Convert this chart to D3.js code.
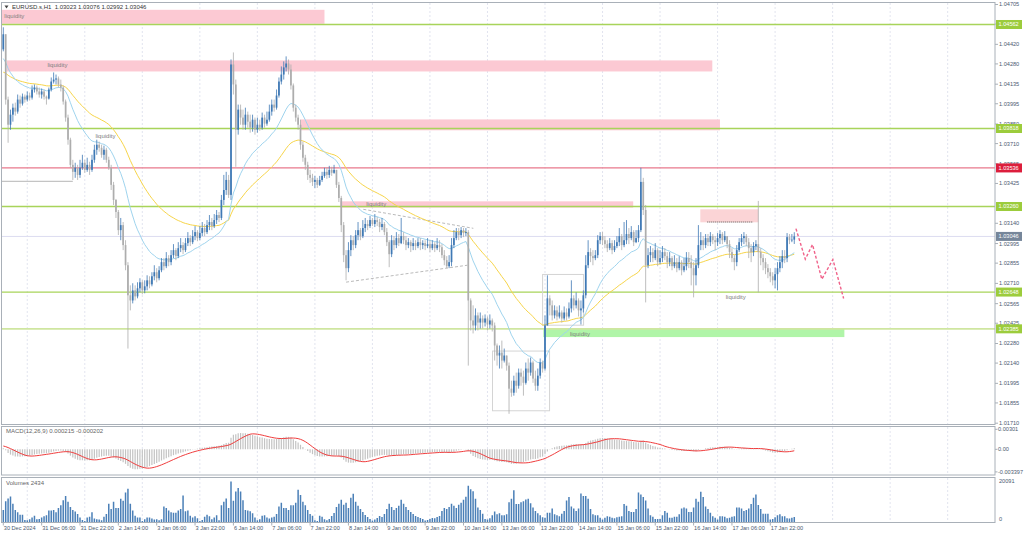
<!DOCTYPE html>
<html><head><meta charset="utf-8">
<script src="https://cdn.jsdelivr.net/npm/d3@7"></script>
<style>body{margin:0;background:#fff;overflow:hidden}text{font-family:"Liberation Sans",Arial,sans-serif}</style>
</head><body>
<svg id="c" width="1024" height="537"></svg>
<script>
// ---------------- DATA ----------------
const symbol = "EURUSD.s,H1";
const firstOpen = 1.04384;
const closes = [
1.04492,1.04025,1.03845,1.03917,1.03967,1.03939,1.04025,1.03996,1.04046,1.04025,
1.04054,1.04039,1.04097,1.04111,1.04083,1.04061,1.04083,1.04046,1.04032,1.04097,
1.04154,1.04168,1.04176,1.04133,1.04111,1.04011,1.03896,1.03738,1.03558,1.03508,
1.03537,1.03486,1.03537,1.03573,1.03522,1.03558,1.03522,1.03594,1.03666,1.03702,
1.03680,1.03630,1.03666,1.03594,1.03537,1.03415,1.03307,1.03221,1.03091,1.03127,
1.02984,1.02840,1.02625,1.02588,1.02660,1.02617,1.02675,1.02718,1.02660,1.02689,
1.02732,1.02703,1.02761,1.02790,1.02747,1.02804,1.02862,1.02833,1.02891,1.02862,
1.02912,1.02948,1.02905,1.02962,1.02984,1.02948,1.02998,1.03034,1.03005,1.03048,
1.03077,1.03034,1.03070,1.03106,1.03077,1.03127,1.03149,1.03120,1.03163,1.03199,
1.03178,1.03307,1.03378,1.03450,1.03343,1.04276,1.04133,1.03809,1.03953,1.03896,
1.03845,1.03917,1.03867,1.03824,1.03881,1.03809,1.03845,1.03824,1.03896,1.03853,
1.03881,1.03939,1.03989,1.03967,1.04054,1.04154,1.04204,1.04255,1.04283,1.04240,
1.04126,1.03967,1.03896,1.03845,1.03702,1.03609,1.03558,1.03486,1.03465,1.03436,
1.03450,1.03415,1.03450,1.03479,1.03508,1.03486,1.03522,1.03501,1.03522,1.03415,
1.03321,1.03127,1.02912,1.02819,1.02948,1.03019,1.02984,1.03055,1.03091,1.03048,
1.03106,1.03135,1.03120,1.03163,1.03135,1.03163,1.03149,1.03113,1.03135,1.03077,
1.03005,1.02919,1.03019,1.02984,1.03034,1.02998,1.03048,1.03019,1.02984,1.03005,
1.02977,1.02998,1.02977,1.03005,1.02984,1.02998,1.02977,1.02991,1.02962,1.02991,
1.02962,1.02984,1.02969,1.02912,1.02876,1.02833,1.02862,1.02984,1.03034,1.03077,
1.03055,1.03091,1.03070,1.03077,1.02588,1.02445,1.02409,1.02481,1.02430,1.02459,
1.02430,1.02459,1.02416,1.02445,1.02409,1.02266,1.02194,1.02215,1.02158,1.02194,
1.02122,1.01957,1.01928,1.02014,1.01978,1.02072,1.02043,1.01999,1.02101,1.02072,
1.02144,1.02029,1.01978,1.02050,1.02144,1.02101,1.02409,1.02603,1.02553,1.02481,
1.02517,1.02473,1.02502,1.02459,1.02502,1.02473,1.02531,1.02603,1.02553,1.02588,
1.02517,1.02531,1.02625,1.02840,1.02934,1.02905,1.02891,1.02912,1.03019,1.03048,
1.03019,1.02991,1.02962,1.02998,1.02948,1.02977,1.03005,1.03048,1.02984,1.03019,
1.03063,1.03034,1.03077,1.03005,1.03034,1.03091,1.03436,1.03235,1.02840,1.02912,
1.02934,1.02891,1.02948,1.02862,1.02891,1.02934,1.02905,1.02862,1.02891,1.02833,
1.02862,1.02819,1.02862,1.02804,1.02833,1.02891,1.02862,1.02819,1.02768,1.02840,
1.02984,1.03019,1.02984,1.03034,1.03005,1.03048,1.03019,1.03005,1.03034,1.03063,
1.03019,1.03048,1.02991,1.02934,1.02891,1.02862,1.02948,1.03005,1.03034,1.03048,
1.03005,1.02962,1.02934,1.02977,1.02991,1.02934,1.02891,1.02862,1.02819,1.02790,
1.02761,1.02732,1.02776,1.02819,1.02862,1.02905,1.02891,1.03041,1.03019,1.03023,
1.03046];
const highs = [
1.04542,1.04478,1.04046,1.03953,1.03996,1.04003,1.04061,1.04054,1.04068,1.04061,
1.04083,1.04075,1.04126,1.04133,1.04126,1.04111,1.04104,1.04097,1.04054,1.04111,
1.04183,1.04219,1.04204,1.04190,1.04168,1.04126,1.04025,1.03917,1.03752,1.03594,
1.03573,1.03558,1.03594,1.03630,1.03594,1.03609,1.03580,1.03630,1.03702,1.03738,
1.03724,1.03702,1.03695,1.03680,1.03616,1.03558,1.03436,1.03314,1.03235,1.03178,
1.03149,1.03019,1.02862,1.02696,1.02711,1.02696,1.02718,1.02747,1.02732,1.02732,
1.02768,1.02761,1.02790,1.02840,1.02819,1.02833,1.02891,1.02891,1.02934,1.02912,
1.02948,1.02991,1.02962,1.03005,1.03034,1.03005,1.03034,1.03077,1.03055,1.03091,
1.03120,1.03091,1.03120,1.03149,1.03135,1.03163,1.03199,1.03178,1.03206,1.03235,
1.03221,1.03343,1.03486,1.03508,1.03486,1.04312,1.04362,1.04168,1.03989,1.03989,
1.03953,1.03967,1.03939,1.03917,1.03917,1.03896,1.03896,1.03881,1.03932,1.03917,
1.03939,1.03989,1.04025,1.04025,1.04097,1.04183,1.04262,1.04298,1.04334,1.04312,
1.04276,1.04140,1.03989,1.03917,1.03881,1.03724,1.03630,1.03580,1.03522,1.03494,
1.03479,1.03465,1.03479,1.03508,1.03537,1.03537,1.03551,1.03544,1.03558,1.03522,
1.03436,1.03336,1.03149,1.02948,1.03005,1.03055,1.03048,1.03091,1.03149,1.03106,
1.03163,1.03178,1.03163,1.03192,1.03178,1.03206,1.03185,1.03171,1.03178,1.03149,
1.03106,1.03019,1.03055,1.03048,1.03077,1.03063,1.03178,1.03077,1.03048,1.03034,
1.03019,1.03034,1.03019,1.03034,1.03034,1.03019,1.03019,1.03034,1.03019,1.03019,
1.03005,1.03034,1.03019,1.02991,1.02948,1.02905,1.02912,1.03034,1.03091,1.03106,
1.03106,1.03113,1.03106,1.03106,1.03091,1.02603,1.02553,1.02531,1.02502,1.02502,
1.02481,1.02488,1.02473,1.02488,1.02459,1.02430,1.02280,1.02266,1.02301,1.02244,
1.02194,1.02144,1.02014,1.02050,1.02072,1.02101,1.02101,1.02086,1.02144,1.02173,
1.02180,1.02158,1.02086,1.02101,1.02173,1.02158,1.02481,1.02768,1.02625,1.02588,
1.02553,1.02545,1.02553,1.02517,1.02545,1.02531,1.02574,1.02732,1.02625,1.02646,
1.02603,1.02588,1.02660,1.02912,1.03019,1.02962,1.02948,1.02948,1.03055,1.03077,
1.03077,1.03048,1.03019,1.03034,1.03019,1.03019,1.03048,1.03106,1.03063,1.03149,
1.03163,1.03106,1.03120,1.03091,1.03091,1.03127,1.03537,1.03465,1.03271,1.02962,
1.02977,1.02962,1.02998,1.02962,1.02948,1.02977,1.02962,1.02934,1.02934,1.02905,
1.02912,1.02891,1.02905,1.02876,1.02891,1.02934,1.02934,1.02912,1.02862,1.02891,
1.03127,1.03077,1.03048,1.03063,1.03063,1.03077,1.03063,1.03048,1.03070,1.03091,
1.03077,1.03084,1.03048,1.03019,1.02962,1.02912,1.02984,1.03034,1.03063,1.03077,
1.03063,1.03034,1.02991,1.03005,1.03019,1.03300,1.02962,1.02919,1.02891,1.02848,
1.02819,1.02790,1.02819,1.02862,1.02905,1.02948,1.02948,1.03070,1.03063,1.03063,
1.03076];
const lows = [
1.04370,1.03989,1.03716,1.03809,1.03867,1.03910,1.03924,1.03967,1.03982,1.04003,
1.04011,1.04018,1.04025,1.04075,1.04061,1.04039,1.04032,1.04025,1.03989,1.04025,
1.04083,1.04140,1.04133,1.04111,1.04083,1.03989,1.03867,1.03702,1.03537,1.03450,
1.03465,1.03450,1.03465,1.03522,1.03501,1.03508,1.03486,1.03508,1.03573,1.03630,
1.03652,1.03609,1.03594,1.03573,1.03522,1.03378,1.03271,1.03178,1.03056,1.03019,
1.02948,1.02804,1.02244,1.02517,1.02567,1.02588,1.02603,1.02646,1.02632,1.02639,
1.02660,1.02675,1.02689,1.02732,1.02718,1.02732,1.02790,1.02804,1.02819,1.02833,
1.02840,1.02891,1.02876,1.02891,1.02934,1.02919,1.02934,1.02977,1.02977,1.02991,
1.03019,1.03012,1.03019,1.03048,1.03048,1.03063,1.03091,1.03091,1.03106,1.03135,
1.03149,1.03163,1.03271,1.03343,1.03321,1.03307,1.04061,1.03544,1.03774,1.03845,
1.03809,1.03809,1.03824,1.03788,1.03795,1.03774,1.03788,1.03802,1.03809,1.03824,
1.03838,1.03867,1.03910,1.03939,1.03953,1.04039,1.04133,1.04168,1.04226,1.04204,
1.04097,1.03939,1.03867,1.03809,1.03666,1.03580,1.03522,1.03450,1.03429,1.03407,
1.03393,1.03393,1.03407,1.03436,1.03465,1.03458,1.03465,1.03479,1.03494,1.03393,
1.03292,1.03077,1.02862,1.02732,1.02790,1.02905,1.02948,1.02962,1.03019,1.03019,
1.03034,1.03077,1.03091,1.03106,1.03120,1.03113,1.03120,1.03077,1.03091,1.03055,
1.02977,1.02826,1.02898,1.02948,1.02962,1.02977,1.02991,1.02991,1.02948,1.02962,
1.02934,1.02948,1.02948,1.02962,1.02948,1.02955,1.02948,1.02962,1.02934,1.02948,
1.02934,1.02948,1.02934,1.02891,1.02840,1.02819,1.02819,1.02833,1.02962,1.03019,
1.03019,1.03034,1.03041,1.03048,1.02122,1.02373,1.02352,1.02373,1.02373,1.02387,
1.02387,1.02402,1.02373,1.02387,1.02366,1.02158,1.02122,1.02101,1.02101,1.02144,
1.02086,1.01777,1.01899,1.01907,1.01928,1.01957,1.01978,1.01907,1.01986,1.02014,
1.02050,1.01999,1.01942,1.01942,1.02029,1.02072,1.02086,1.02409,1.02481,1.02445,
1.02459,1.02445,1.02459,1.02430,1.02445,1.02445,1.02459,1.02502,1.02517,1.02531,
1.02473,1.02416,1.02502,1.02603,1.02819,1.02862,1.02840,1.02876,1.02891,1.02991,
1.02984,1.02962,1.02934,1.02948,1.02919,1.02934,1.02962,1.02977,1.02948,1.02969,
1.02991,1.02991,1.03019,1.02977,1.02998,1.03005,1.03077,1.03199,1.02574,1.02819,
1.02862,1.02862,1.02876,1.02833,1.02848,1.02862,1.02876,1.02819,1.02833,1.02804,
1.02819,1.02790,1.02804,1.02768,1.02790,1.02804,1.02819,1.02696,1.02610,1.02696,
1.02819,1.02948,1.02948,1.02962,1.02977,1.02977,1.02991,1.02948,1.02977,1.02991,
1.02991,1.03005,1.02962,1.02891,1.02862,1.02804,1.02833,1.02934,1.02977,1.02991,
1.02977,1.02891,1.02862,1.02905,1.02948,1.02646,1.02840,1.02804,1.02776,1.02747,
1.02718,1.02696,1.02675,1.02660,1.02790,1.02819,1.02855,1.02862,1.02991,1.03005,
1.02992];
const volumes = [
6000,10300,11700,12600,9100,6000,4800,3600,3600,1000,900,1400,2200,3100,1400,
1500,2200,2800,3400,5700,5700,6000,4800,7000,8300,10800,12900,10000,7400,6000,5200,4000,2200,1000,500,2200,2600,4800,1700,1400,1200,900,2600,4000,9100,6500,10000,7000,7000,11500,10500,14600,16500,9100,5700,3100,2200,2200,500,
1400,2200,2200,1700,1200,1400,900,1400,7700,7000,5700,4800,4600,4600,5700,6500,13200,5300,5700,3100,2200,2800,1900,500,1000,2600,3600,2800,1400,2200,3300,900,8300,10000,11700,7000,20091,10500,15100,16900,15100,10800,6000,5700,5300,4300,2200,900,1400,
3100,3400,2200,1700,2200,2600,4000,7700,9500,7000,6900,6000,8300,8300,9500,16000,13400,10000,8300,6000,4000,3100,900,500,3100,2600,1400,
900,
1500,3000,4500,7500,9000,11000,8500,9500,7000,12000,14000,10000,8000,6500,5000,3500,2500,1500,800,1200,2000,3000,2500,4000,6500,9000,7500,6000,7000,8000,11000,9000,7500,6000,5000,4000,3000,2500,2000,1500,700,1000,1500,2000,1800,2500,3000,5500,7000,6500,7500,9000,8000,7000,8500,9500,11000,12500,18000,
16200,15300,11500,7200,6000,4100,1500,1200,1900,3300,5200,3800,4300,3400,3300,3800,9800,11500,15800,8900,8900,9800,10300,11200,11500,9300,7200,5500,4300,3300,2400,2100,4600,4600,6700,3800,3300,2900,4100,5500,10700,12400,7700,6700,5500,6700,14100,12900,12900,11500,6400,3800,3300,3300,2100,
1200,2100,2900,2600,2100,1900,2400,2600,2900,8900,8100,5500,5000,5000,6400,14600,13600,12400,10700,6700,3300,2600,1500,1500,1500,3300,5500,4600,2100,2100,2600,2600,3800,6700,7200,6700,5000,5000,7200,11500,10100,15000,12400,7700,6400,4600,2900,2100,1200,
2900,2900,2600,1900,2100,2600,2900,7200,7200,6700,5500,6000,6700,8900,12000,13600,8400,6400,4100,4100,4100,1200,1500,2400,3300,3800,2900,2900,1900,1700,2100,2434];

const timeLabels = ["30 Dec 2024","31 Dec 06:00","31 Dec 22:00","2 Jan 14:00","3 Jan 06:00","3 Jan 22:00","6 Jan 14:00","7 Jan 06:00","7 Jan 22:00","8 Jan 14:00","9 Jan 06:00","9 Jan 22:00","10 Jan 14:00","13 Jan 06:00","13 Jan 22:00","14 Jan 14:00","15 Jan 06:00","15 Jan 22:00","16 Jan 14:00","17 Jan 06:00","17 Jan 22:00"];
const barsPerLabel = 16;
const priceTicks = [1.04705,1.04565,1.04420,1.04280,1.04135,1.03995,1.03850,1.03710,1.03565,1.03425,1.03140,1.02995,1.02855,1.02710,1.02565,1.02425,1.02280,1.02140,1.01995,1.01855,1.01710];
const greenLevels = [1.04562,1.03818,1.03260,1.02648];
const lightGreenLevels = [1.02385];
const redLevels = [1.03536];
const currentPrice = 1.03046;
const macdTicks = [0.00301, 0.00, -0.003397];
const macdTickText = ["0.00301","0.00","-0.003397"];
const volumeTicks = [20091, 0];
const macdHeader = "MACD(12,26,9) 0.000215 -0.000202";
const volumeHeader = "Volumes 2434";
// supply/demand zones: [barFrom, barTo, priceTop, priceBottom]
const pinkZones = [[-1,134,1.04667,1.04567],[1.5,295.8,1.04305,1.04226],[124,299,1.03883,1.03805],[140.6,262.8,1.03297,1.03252]];
const lightPinkZones = [[290.8,315,1.03240,1.03147]];
const greenZones = [[225.3,350.9,1.02390,1.02326]];
const liquidityLabels = [[0,1.04626],[18,1.04276],[38,1.03765],[151,1.03276],[301,1.02615],[236,1.02347]];
const graySegments = [[[-1,1.03440],[29,1.03440]]];
const dottedSegments = [[[293.7,1.03149],[312.9,1.03149]]];
const trendLines = [[[150.2,1.03240],[196.1,1.03104]],[[143,1.02719],[193.6,1.02840]]];
const boxes = [[204.1,227.9,1.02226,1.01799],[225,242.1,1.02774,1.02411]];
const forecast = [[330.7,1.03102],[334.6,1.02883],[337.6,1.02988],[341.5,1.02740],[346.1,1.02881],[350.6,1.02602]];
// indicator warm-up values (state before the first visible bar)
const maFastSeed = 1.0430, maSlowSeed = 1.0421, maFastPeriod = 20, maSlowPeriod = 50;
const ema12Seed = 1.04400, ema26Seed = 1.04390;
const macdPrior = [0.0007,0.0007,0.0006,0.0006,0.0005,0.0005,0.0004,0.0003];

// ---------------- CHART ----------------
const N = closes.length;
const svg = d3.select("#c");
const FONT = 6, AX = 5.6;
const x = d3.scaleLinear().domain([0,320]).range([3.3,770.3]);
const y = d3.scaleLinear().domain([1.01710,1.04705]).range([423.2,4.5]);
const yM = d3.scaleLinear().domain([-0.003397,0.00301]).range([471.9,429.3]);
const yV = d3.scaleLinear().domain([0,20091]).range([522,481.5]);
const R = 995;

svg.append("rect").attr("width",1024).attr("height",537).attr("fill","#fff");
const defs = svg.append("defs");
defs.append("clipPath").attr("id","cm").append("rect").attr("x",2).attr("y",3).attr("width",R-2).attr("height",421);
defs.append("clipPath").attr("id","cd").append("rect").attr("x",2).attr("y",427).attr("width",R-2).attr("height",48);
defs.append("clipPath").attr("id","cv").append("rect").attr("x",2).attr("y",478).attr("width",R-2).attr("height",44.5);

// grid
const gridBars = d3.range(10, 420, 24);
[[3,424],[427,475],[478,522]].forEach(([a,b])=>{
  svg.append("g").selectAll("line").data(gridBars.filter(b=>x(b)<R)).join("line")
    .attr("x1",d=>x(d)).attr("x2",d=>x(d)).attr("y1",a).attr("y2",b)
    .attr("stroke","#d6d8e8").attr("stroke-width",0.7).attr("stroke-dasharray","2,2");
});

const main = svg.append("g").attr("clip-path","url(#cm)");
function zone(arr, fill){
  main.append("g").selectAll("rect").data(arr).join("rect")
   .attr("x",d=>x(d[0])).attr("width",d=>x(d[1])-x(d[0]))
   .attr("y",d=>y(d[2])).attr("height",d=>y(d[3])-y(d[2])).attr("fill",fill);
}
zone(pinkZones,"#fcc9d3");
zone(lightPinkZones,"#fbd4d6");
zone(greenZones,"#b0f5a8");

function hline(arr,color,w,op){
  main.append("g").selectAll("line").data(arr).join("line")
    .attr("x1",2).attr("x2",R).attr("y1",d=>y(d)).attr("y2",d=>y(d))
    .attr("stroke",color).attr("stroke-width",w).attr("opacity",op);
}
hline([currentPrice],"#dcdcf0",1,1);
hline(greenLevels,"#a8d45a",1.3,1);
hline(lightGreenLevels,"#cfe6a0",1.6,1);
hline(redLevels,"#e8798c",1.3,1);

const line = d3.line().x(d=>x(d[0])).y(d=>y(d[1]));
main.append("g").selectAll("path").data(graySegments).join("path").attr("d",line)
  .attr("stroke","#c4c4c4").attr("stroke-width",1.4).attr("fill","none");
main.append("g").selectAll("path").data(dottedSegments).join("path").attr("d",line)
  .attr("stroke","#333").attr("stroke-width",0.8).attr("stroke-dasharray","1,1").attr("fill","none");
main.append("g").selectAll("path").data(trendLines).join("path").attr("d",line)
  .attr("stroke","#a8a8a8").attr("stroke-width",0.8).attr("stroke-dasharray","3,2").attr("fill","none");
main.append("g").selectAll("rect").data(boxes).join("rect")
  .attr("x",d=>x(d[0])).attr("width",d=>x(d[1])-x(d[0]))
  .attr("y",d=>y(d[2])).attr("height",d=>y(d[3])-y(d[2]))
  .attr("fill","none").attr("stroke","#d4d4d4").attr("stroke-width",1);

// moving averages
function ema(seed, period){
  const k = 2/(period+1); let v = seed; return closes.map(c=>(v = v + k*(c-v)));
}
const maFast = ema(maFastSeed, maFastPeriod), maSlow = ema(maSlowSeed, maSlowPeriod);
const maLine = d3.line().x((d,i)=>x(i)).y(d=>y(d));
main.append("path").attr("d",maLine(maSlow)).attr("stroke","#f7d54a").attr("stroke-width",1).attr("fill","none");
main.append("path").attr("d",maLine(maFast)).attr("stroke","#9fd4ee").attr("stroke-width",1).attr("fill","none");

// candles
const bars = closes.map((c,i)=>{
  const o = i===0 ? firstOpen : closes[i-1];
  return {i, o, c, h: Math.max(highs[i],o,c), l: Math.min(lows[i],o,c)};
});
const cg = main.append("g");
const col = d=> d.c>=d.o ? "#3f79b5" : "#adadad";
cg.selectAll("line").data(bars).join("line")
  .attr("x1",d=>x(d.i)).attr("x2",d=>x(d.i)).attr("y1",d=>y(d.h)).attr("y2",d=>y(d.l))
  .attr("stroke",col).attr("stroke-width",0.8);
cg.selectAll("rect").data(bars).join("rect")
  .attr("x",d=>x(d.i)-0.85).attr("width",1.7)
  .attr("y",d=>y(Math.max(d.o,d.c))).attr("height",d=>Math.max(0.8,Math.abs(y(d.o)-y(d.c))))
  .attr("fill",col);

// forecast
main.append("path").attr("d",line(forecast)).attr("stroke","#f0628a").attr("stroke-width",1.4)
  .attr("stroke-dasharray","3,2").attr("fill","none");

// liquidity labels
main.append("g").selectAll("text").data(liquidityLabels).join("text")
  .attr("x",d=>x(d[0])+1).attr("y",d=>y(d[1])).attr("dy","0.35em")
  .attr("font-size",FONT).attr("fill","#808080").text("liquidity");

// header
svg.append("path").attr("d","M4.5,5.5 L8.5,5.5 L6.5,8.5 Z").attr("fill","#444");
svg.append("text").attr("x",12).attr("y",7.3).attr("dy","0.35em").attr("font-size",FONT).attr("fill","#333")
  .attr("xml:space","preserve")
  .text(`${symbol}  ${bars[N-1].o.toFixed(5)} ${bars[N-1].h.toFixed(5)} ${bars[N-1].l.toFixed(5)} ${bars[N-1].c.toFixed(5)}`);

// ---- MACD ----
const macd = [];
{ let e12 = ema12Seed, e26 = ema26Seed;
  closes.forEach(c=>{ e12 += 2/13*(c-e12); e26 += 2/27*(c-e26); macd.push(e12-e26); }); }
const macdAll = macdPrior.concat(macd);
const signal = macd.map((m,i)=> d3.mean(macdAll.slice(i, i+9)));
const md = svg.append("g").attr("clip-path","url(#cd)");
md.selectAll("line").data(macd).join("line")
  .attr("x1",(d,i)=>x(i)).attr("x2",(d,i)=>x(i)).attr("y1",yM(0)).attr("y2",d=>yM(d))
  .attr("stroke","#c3c3c3").attr("stroke-width",1.2);
md.append("path").attr("d",d3.line().x((d,i)=>x(i)).y(d=>yM(d))(signal))
  .attr("stroke","#f03c3c").attr("stroke-width",1).attr("fill","none");
svg.append("text").attr("x",6).attr("y",430.7).attr("dy","0.35em").attr("font-size",FONT).attr("fill","#666").text(macdHeader);

// ---- Volumes ----
const vg = svg.append("g").attr("clip-path","url(#cv)");
vg.selectAll("line").data(volumes.slice(0,N)).join("line")
  .attr("x1",(d,i)=>x(i)).attr("x2",(d,i)=>x(i)).attr("y1",yV(0)).attr("y2",d=>yV(d))
  .attr("stroke","#4a7fb7").attr("stroke-width",1.5);
svg.append("text").attr("x",6).attr("y",482.7).attr("dy","0.35em").attr("font-size",FONT).attr("fill","#666").text(volumeHeader);

// ---- frames ----
const frame = "#a9b0b8";
[[2.5,424.5],[426.5,475],[477.5,522.5]].forEach(([a,b])=>{
  svg.append("rect").attr("x",1.5).attr("y",a).attr("width",R-1.5).attr("height",b-a)
    .attr("fill","none").attr("stroke",frame).attr("stroke-width",1);
});

// ---- right axis ----
const ra = svg.append("g").attr("font-size",AX).attr("fill","#4b5a70");
ra.selectAll("line.t").data(priceTicks).join("line").attr("class","t")
  .attr("x1",R).attr("x2",R+3).attr("y1",d=>y(d)).attr("y2",d=>y(d)).attr("stroke",frame);
ra.selectAll("text.t").data(priceTicks).join("text").attr("class","t")
  .attr("x",R+4).attr("y",d=>y(d)).attr("dy","0.35em").text(d=>d.toFixed(5));
function tag(price, bg){
  const g = svg.append("g");
  g.append("rect").attr("x",R+1).attr("y",y(price)-4.5).attr("width",26).attr("height",9).attr("fill",bg);
  g.append("text").attr("x",R+3.5).attr("y",y(price)).attr("dy","0.35em").attr("font-size",AX).attr("fill","#fff").text(price.toFixed(5));
}
greenLevels.concat(lightGreenLevels).forEach(p=>tag(p,"#9ccc3c"));
redLevels.forEach(p=>tag(p,"#dc1e3c"));
tag(currentPrice,"#76869a");

ra.selectAll("text.m").data(macdTicks).join("text").attr("class","m")
  .attr("x",R+3).attr("y",d=>yM(d)).attr("dy","0.35em").text((d,i)=>macdTickText[i])
  .attr("textLength",(d,i)=> i===2 ? 25 : null).attr("lengthAdjust","spacingAndGlyphs");
ra.selectAll("line.m").data(macdTicks).join("line").attr("class","m")
  .attr("x1",R).attr("x2",R+2.5).attr("y1",d=>yM(d)).attr("y2",d=>yM(d)).attr("stroke",frame);
ra.selectAll("text.v").data(volumeTicks).join("text").attr("class","v")
  .attr("x",R+4).attr("y",(d,i)=> i===0 ? yV(d) : yV(d)-2.5).attr("dy","0.35em").text(d=>d);

// ---- bottom axis ----
const ba = svg.append("g").attr("font-size",AX).attr("fill","#4b5a70");
ba.selectAll("text").data(timeLabels).join("text")
  .attr("x",(d,i)=>x(i*barsPerLabel)+0.5).attr("y",528.5).attr("dy","0.35em").text(d=>d);
ba.selectAll("line").data(timeLabels).join("line")
  .attr("x1",(d,i)=>x(i*barsPerLabel)).attr("x2",(d,i)=>x(i*barsPerLabel)).attr("y1",522.5).attr("y2",525.5)
  .attr("stroke",frame);
</script>
</body></html>
